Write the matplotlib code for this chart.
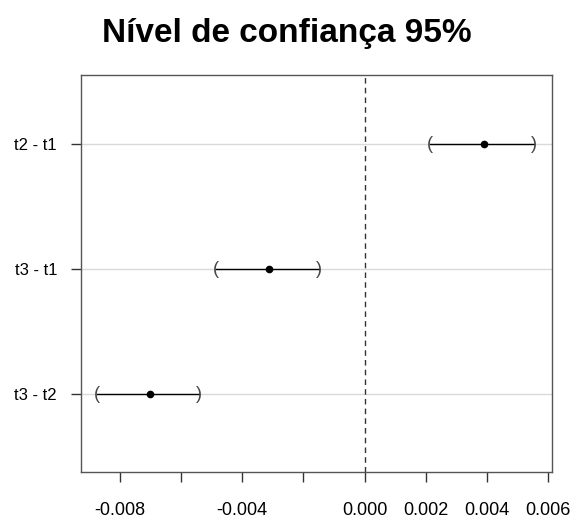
import matplotlib
matplotlib.use("Agg")
import matplotlib.pyplot as plt

comparisons = ["t2 - t1", "t3 - t1", "t3 - t2"]
diff = [0.0039, -0.00314, -0.00702]
lwr = [0.00213, -0.00486, -0.00874]
upr = [0.00553, -0.00149, -0.00540]
xticks = [-0.008, -0.006, -0.004, -0.002, 0.000, 0.002, 0.004, 0.006]
xticklabels = ["-0.008", "", "-0.004", "", "0.000", "0.002", "0.004", "0.006"]

plt.rcParams['font.family'] = ['Liberation Sans', 'DejaVu Sans']

fig = plt.figure(figsize=(5.73, 5.19), dpi=100)
ax = fig.add_axes([0.1408, 0.09, 0.822, 0.7655])

n = len(comparisons)
ypos = [n - i for i in range(n)]

for y in ypos:
    ax.axhline(y, color='#d9d9d9', lw=1, zorder=0)
ax.axvline(0, color='#333333', lw=1, ls=(0, (4, 3)), zorder=1)

for y, d, lo, hi in zip(ypos, diff, lwr, upr):
    ax.plot([lo, hi], [y, y], color='black', lw=1, zorder=2)
    ax.plot(d, y, 'o', color='black', ms=4.5, zorder=3)
    ax.text(lo, y, "(", ha='center', va='center', fontsize=13, color='#444444', zorder=3)
    ax.text(hi, y, ")", ha='center', va='center', fontsize=13, color='#444444', zorder=3)

ax.set_xlim(-0.00928, 0.00611)
ax.set_ylim(0.374, 3.552)
ax.set_xticks(xticks)
ax.set_xticklabels(xticklabels, fontsize=13)
ax.set_yticks(ypos)
ax.set_yticklabels(comparisons, fontsize=12)
ax.tick_params(axis='x', direction='out', length=7.5, width=1, pad=14, color='#333333')
ax.tick_params(axis='y', direction='out', length=7.5, width=1, pad=9.5, color='#333333')
for s in ax.spines.values():
    s.set_color('#555555')
    s.set_linewidth(1)

fig.text(0.5, 0.936, "Nível de confiança 95%", ha='center', va='center',
         fontsize=24, fontweight='bold')

fig.savefig("out.png", dpi=100)
